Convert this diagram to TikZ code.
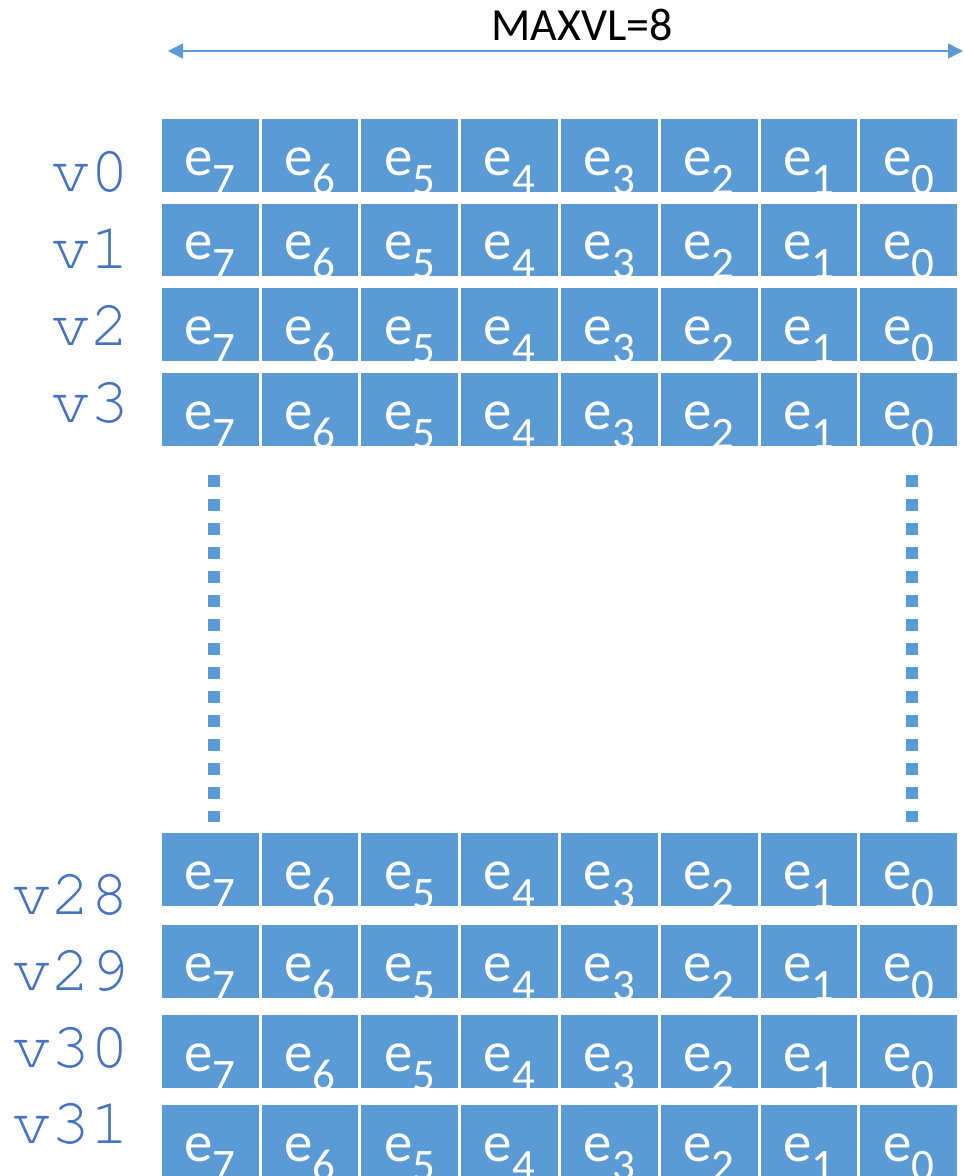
\documentclass[tikz,border=0pt]{standalone}
\usepackage{fontspec}
\usetikzlibrary{arrows.meta}
\newfontfamily\carlito{Carlito}
\newfontfamily\cursorfont{TeX Gyre Cursor}
\definecolor{cellblue}{HTML}{5B9BD5}
\definecolor{labblue}{HTML}{4472C4}
\tikzset{
  cellbox/.style={rectangle, fill=cellblue, draw=none, minimum width=96.8pt, minimum height=72.7pt, inner sep=0pt, outer sep=0pt, anchor=north west},
  vlabel/.style={anchor=base east, inner sep=0pt, text=labblue, font=\cursorfont\fontsize{65}{68}\selectfont},
  dimarrow/.style={draw=cellblue, line width=1.5pt, {Triangle[length=15pt,width=15pt]}-{Triangle[length=15pt,width=15pt]}},
  dotline/.style={draw=cellblue, line width=12pt, dash pattern=on 11.7pt off 12.3pt},
  celltext/.style={anchor=base, inner sep=0pt, text=white, font=\carlito\fontsize{57}{60}\selectfont}
}
\begin{document}
\begin{tikzpicture}[x=1pt,y=-1pt]
\useasboundingbox[fill=white] (0,0) rectangle (964,1176);
% top dimension
\coordinate (al) at (168,51);
\coordinate (ar) at (963,51);
\draw[dimarrow] (al) -- (ar);
\node[anchor=base, inner sep=0pt, text=black, font=\carlito\fontsize{46}{50}\selectfont] (maxvl) at (582,40.7) {MAXVL=8};
% rows
\foreach \r/\tp/\lab in {0/119/191.7, 1/203.7/268.3, 2/288.3/345, 3/373/422, 28/833.3/914, 29/925.3/990.7, 30/1015/1067.7, 31/1105.3/1143.3} {
  \node[vlabel] (v\r) at (130,\lab) {v\r};
  \foreach \i in {0,...,7} {
    \pgfmathsetmacro\xx{161.7+99.8*\i}
    \pgfmathtruncatemacro\k{7-\i}
    \node[cellbox, path picture={
      \node[celltext] at ([yshift=-56pt]path picture bounding box.north) {e\raisebox{-19pt}{\fontsize{45}{45}\selectfont\k}};
    }] (c\r-\k) at (\xx,\tp) {};
  }
}
% dotted continuation lines
\coordinate (dlt) at (213.5,475);
\coordinate (dlb) at (213.5,822.3);
\coordinate (drt) at (912,475);
\coordinate (drb) at (912,822.3);
\draw[dotline] (dlt) -- (dlb);
\draw[dotline] (drt) -- (drb);
\end{tikzpicture}
\end{document}
